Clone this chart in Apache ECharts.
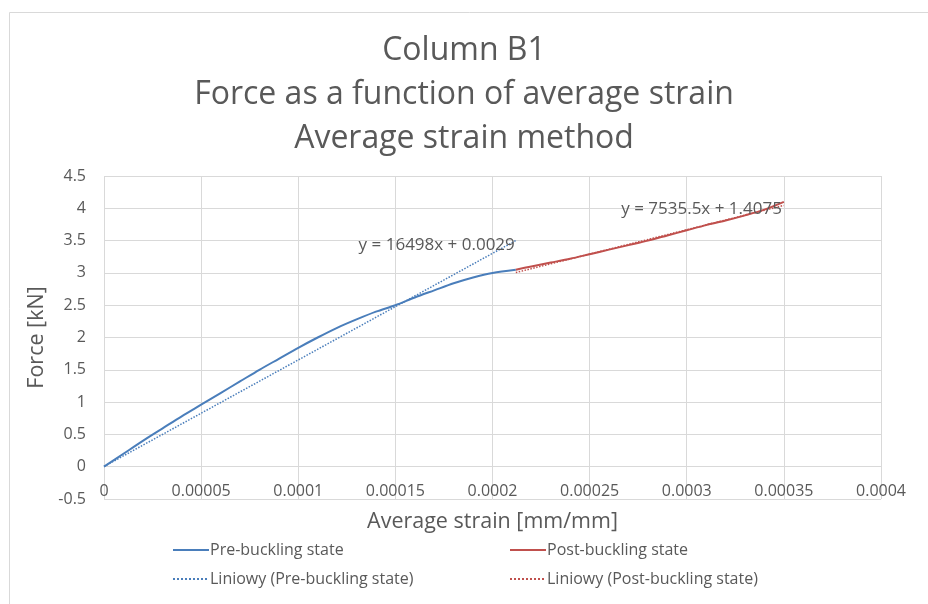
<!DOCTYPE html>
<html>
<head>
<meta charset="utf-8">
<script src="https://cdn.jsdelivr.net/npm/echarts@6/dist/echarts.min.js"></script>
<style>
  html, body { margin: 0; padding: 0; background: #ffffff; }
  #chart { width: 928px; height: 604px; }
</style>
</head>
<body>
<div id="chart"></div>
<script>
// Measured force vs. average strain, column B1
const preStrain = [0, 0.00001, 0.00002, 0.00003, 0.00004, 0.00005, 0.00006, 0.00007, 0.00008, 0.00009,
  0.0001, 0.00011, 0.00012, 0.00013, 0.00014, 0.00015, 0.00016, 0.00017, 0.00018, 0.00019, 0.0002, 0.000212];
const preForce = [0, 0.20, 0.40, 0.59, 0.78, 0.96, 1.14, 1.32, 1.50, 1.67,
  1.84, 2.00, 2.15, 2.28, 2.40, 2.50, 2.62, 2.73, 2.84, 2.93, 3.00, 3.05];

const postStrain = [0.000212, 0.00022, 0.00023, 0.00024, 0.00025, 0.00026, 0.00027, 0.00028,
  0.00029, 0.0003, 0.00031, 0.00032, 0.00033, 0.00034, 0.00035];
const postForce = [3.05, 3.10, 3.16, 3.22, 3.29, 3.36, 3.43, 3.50,
  3.58, 3.66, 3.74, 3.81, 3.89, 3.98, 4.10];

// Linear trend lines (slope, intercept) and the strain range they span
const preTrend = { slope: 16498, intercept: 0.0029, from: 0, to: 0.000212 };
const postTrend = { slope: 7535.5, intercept: 1.4075, from: 0.000212, to: 0.00035 };

const xTickLabels = ['0', '0.00005', '0.0001', '0.00015', '0.0002', '0.00025', '0.0003', '0.00035', '0.0004'];
const yTickLabels = ['-0.5', '0', '0.5', '1', '1.5', '2', '2.5', '3', '3.5', '4', '4.5'];

const titleLines = ['Column B1', 'Force as a function of average strain', 'Average strain method'];
const seriesNames = ['Pre-buckling state', 'Post-buckling state', 'Liniowy (Pre-buckling state)', 'Liniowy (Post-buckling state)'];

const BLUE = '#4a7ebb';
const RED = '#c0504d';
const TEXT = '#595959';
const GRID = '#d9d9d9';
const FONT = '"Open Sans", "Noto Sans", sans-serif';

function zipPairs(xs, ys) { return xs.map((x, i) => [x, ys[i]]); }
function trendPoints(t) {
  return [[t.from, t.slope * t.from + t.intercept], [t.to, t.slope * t.to + t.intercept]];
}
function equation(t) {
  return 'y = ' + t.slope + 'x + ' + t.intercept;
}

const legendCommon = {
  orient: 'vertical',
  top: 542,
  padding: 0,
  itemWidth: 36,
  itemHeight: 14,
  itemGap: 13,
  itemStyle: { opacity: 0 },
  textStyle: { fontFamily: FONT, fontSize: 16, color: TEXT, padding: [0, 0, 0, -4] }
};

const chart = echarts.init(document.getElementById('chart'), null, { renderer: 'canvas' });

chart.setOption({
  backgroundColor: '#ffffff',
  animation: false,
  textStyle: { fontFamily: FONT },
  graphic: [{
    type: 'rect',
    shape: { x: 9.5, y: 12.5, width: 1000, height: 700 },
    style: { fill: 'none', stroke: GRID, lineWidth: 1 },
    silent: true
  }],
  title: {
    text: titleLines.join('\n'),
    left: 'center',
    top: 24,
    textStyle: { fontFamily: FONT, fontSize: 32, fontWeight: 'normal', color: TEXT, lineHeight: 44 }
  },
  legend: [
    Object.assign({ data: [seriesNames[0], seriesNames[2]], left: 172 }, legendCommon),
    Object.assign({ data: [seriesNames[1], seriesNames[3]], left: 509 }, legendCommon)
  ],
  grid: { left: 104, right: 47, top: 176, bottom: 105, containLabel: false },
  xAxis: {
    type: 'value',
    min: 0,
    max: 0.0004,
    interval: 0.00005,
    name: 'Average strain [mm/mm]',
    nameLocation: 'middle',
    nameGap: 12,
    nameTextStyle: { fontFamily: FONT, fontSize: 21.5, color: TEXT },
    axisLine: { show: false },
    axisTick: { show: false },
    axisLabel: {
      margin: -16,
      fontSize: 16,
      color: TEXT,
      formatter: v => xTickLabels[Math.round(v / 0.00005)]
    },
    splitLine: { show: true, lineStyle: { color: GRID, width: 1 } }
  },
  yAxis: {
    type: 'value',
    min: -0.5,
    max: 4.5,
    interval: 0.5,
    name: 'Force [kN]',
    nameLocation: 'middle',
    nameGap: 45,
    nameTextStyle: { fontFamily: FONT, fontSize: 21.5, color: TEXT },
    axisLine: { show: false },
    axisTick: { show: false },
    axisLabel: {
      margin: 18,
      fontSize: 16,
      color: TEXT,
      formatter: v => yTickLabels[Math.round((v + 0.5) / 0.5)]
    },
    splitLine: { show: true, lineStyle: { color: GRID, width: 1 } }
  },
  series: [{
    name: seriesNames[0],
    type: 'line',
    data: zipPairs(preStrain, preForce),
    symbol: 'none',
    smooth: 0.3,
    lineStyle: { color: BLUE, width: 2 },
    itemStyle: { color: BLUE },
    z: 3
  }, {
    name: seriesNames[1],
    type: 'line',
    data: zipPairs(postStrain, postForce),
    symbol: 'none',
    smooth: 0.3,
    lineStyle: { color: RED, width: 2 },
    itemStyle: { color: RED },
    z: 3
  }, {
    name: seriesNames[2],
    type: 'line',
    data: trendPoints(preTrend),
    symbol: 'none',
    lineStyle: { color: BLUE, width: 1.5, type: 'dotted' },
    itemStyle: { color: BLUE },
    endLabel: {
      show: true,
      formatter: () => equation(preTrend),
      color: TEXT,
      fontSize: 17,
      align: 'right',
      distance: 0,
      offset: [-1, 5]
    },
    z: 4
  }, {
    name: seriesNames[3],
    type: 'line',
    data: trendPoints(postTrend),
    symbol: 'none',
    lineStyle: { color: RED, width: 1.5, type: 'dotted' },
    itemStyle: { color: RED },
    endLabel: {
      show: true,
      formatter: () => equation(postTrend),
      color: TEXT,
      fontSize: 17,
      align: 'right',
      distance: 0,
      offset: [-2, 4]
    },
    z: 4
  }]
});
</script>
</body>
</html>
